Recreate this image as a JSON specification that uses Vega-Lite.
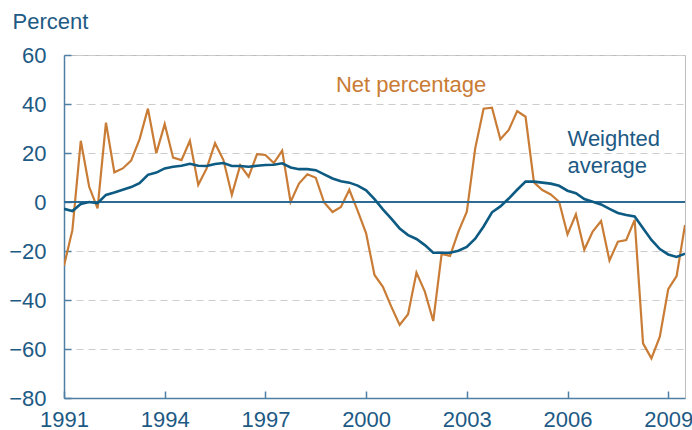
{
  "$schema": "https://vega.github.io/schema/vega-lite/v6.json",
  "width": 621,
  "height": 343,
  "autosize": {"type": "none"},
  "padding": {"left": 64, "top": 55, "right": 7, "bottom": 32},
  "background": "white",
  "config": {
    "view": {"stroke": "#bdbdbd", "strokeWidth": 1},
    "font": "Liberation Sans"
  },
  "data": {
    "values": [
      {"t": 1991.00, "net": -26, "wavg": -2.8},
      {"t": 1991.25, "net": -11.5, "wavg": -3.7},
      {"t": 1991.50, "net": 25, "wavg": -0.8},
      {"t": 1991.75, "net": 6.2, "wavg": 0},
      {"t": 1992.00, "net": -2.6, "wavg": -0.5},
      {"t": 1992.25, "net": 32.4, "wavg": 2.9},
      {"t": 1992.50, "net": 12.1, "wavg": 3.9},
      {"t": 1992.75, "net": 13.7, "wavg": 5.0},
      {"t": 1993.00, "net": 16.9, "wavg": 6.1},
      {"t": 1993.25, "net": 25.6, "wavg": 7.7},
      {"t": 1993.50, "net": 38.1, "wavg": 11.1},
      {"t": 1993.75, "net": 19.9, "wavg": 12.0},
      {"t": 1994.00, "net": 31.8, "wavg": 13.7},
      {"t": 1994.25, "net": 18.1, "wavg": 14.4},
      {"t": 1994.50, "net": 17.1, "wavg": 14.8},
      {"t": 1994.75, "net": 25, "wavg": 15.6},
      {"t": 1995.00, "net": 7, "wavg": 14.8},
      {"t": 1995.25, "net": 13.7, "wavg": 14.7},
      {"t": 1995.50, "net": 24, "wavg": 15.5},
      {"t": 1995.75, "net": 17.1, "wavg": 15.9},
      {"t": 1996.00, "net": 2.9, "wavg": 14.7},
      {"t": 1996.25, "net": 15, "wavg": 14.7},
      {"t": 1996.50, "net": 10.3, "wavg": 14.4},
      {"t": 1996.75, "net": 19.5, "wavg": 14.8},
      {"t": 1997.00, "net": 19.2, "wavg": 15.1},
      {"t": 1997.25, "net": 15.9, "wavg": 15.2},
      {"t": 1997.50, "net": 21, "wavg": 15.8},
      {"t": 1997.75, "net": 0, "wavg": 14.1},
      {"t": 1998.00, "net": 7.5, "wavg": 13.4},
      {"t": 1998.25, "net": 11.3, "wavg": 13.4},
      {"t": 1998.50, "net": 9.9, "wavg": 13.0},
      {"t": 1998.75, "net": -0.2, "wavg": 11.3},
      {"t": 1999.00, "net": -4.1, "wavg": 9.6},
      {"t": 1999.25, "net": -2, "wavg": 8.5},
      {"t": 1999.50, "net": 5, "wavg": 7.9},
      {"t": 1999.75, "net": -3.6, "wavg": 6.7},
      {"t": 2000.00, "net": -12.8, "wavg": 4.8},
      {"t": 2000.25, "net": -29.8, "wavg": 1.2},
      {"t": 2000.50, "net": -34.6, "wavg": -3},
      {"t": 2000.75, "net": -42.7, "wavg": -6.8},
      {"t": 2001.00, "net": -50.2, "wavg": -10.8},
      {"t": 2001.25, "net": -45.8, "wavg": -13.5},
      {"t": 2001.50, "net": -28.8, "wavg": -15.1},
      {"t": 2001.75, "net": -36.6, "wavg": -17.6},
      {"t": 2002.00, "net": -48.6, "wavg": -20.7},
      {"t": 2002.25, "net": -21.2, "wavg": -20.7},
      {"t": 2002.50, "net": -22, "wavg": -20.7},
      {"t": 2002.75, "net": -12.1, "wavg": -19.9},
      {"t": 2003.00, "net": -4, "wavg": -18.3},
      {"t": 2003.25, "net": 21.9, "wavg": -15},
      {"t": 2003.50, "net": 38.1, "wavg": -10},
      {"t": 2003.75, "net": 38.5, "wavg": -4.2},
      {"t": 2004.00, "net": 25.6, "wavg": -1.8},
      {"t": 2004.25, "net": 29.4, "wavg": 1.4},
      {"t": 2004.50, "net": 37.1, "wavg": 5},
      {"t": 2004.75, "net": 34.8, "wavg": 8.3},
      {"t": 2005.00, "net": 8, "wavg": 8.3},
      {"t": 2005.25, "net": 4.9, "wavg": 7.9},
      {"t": 2005.50, "net": 3.1, "wavg": 7.5},
      {"t": 2005.75, "net": 0.1, "wavg": 6.6},
      {"t": 2006.00, "net": -13.2, "wavg": 4.6},
      {"t": 2006.25, "net": -5, "wavg": 3.6},
      {"t": 2006.50, "net": -19.5, "wavg": 1.2},
      {"t": 2006.75, "net": -12.1, "wavg": 0.1},
      {"t": 2007.00, "net": -7.8, "wavg": -1},
      {"t": 2007.25, "net": -23.9, "wavg": -2.8},
      {"t": 2007.50, "net": -16.2, "wavg": -4.5},
      {"t": 2007.75, "net": -15.5, "wavg": -5.3},
      {"t": 2008.00, "net": -7.3, "wavg": -5.9},
      {"t": 2008.25, "net": -57.7, "wavg": -10.7},
      {"t": 2008.50, "net": -63.8, "wavg": -15.5},
      {"t": 2008.75, "net": -55, "wavg": -19.2},
      {"t": 2009.00, "net": -35.6, "wavg": -21.4},
      {"t": 2009.25, "net": -30.2, "wavg": -22.4},
      {"t": 2009.50, "net": -9.4, "wavg": -21.1}
    ]
  },
  "encoding": {
    "x": {
      "field": "t",
      "type": "quantitative",
      "scale": {"domain": [1991, 2009.5], "nice": false, "zero": false},
      "axis": {
        "title": null,
        "values": [1991, 1994, 1997, 2000, 2003, 2006, 2009],
        "format": "d",
        "grid": false,
        "domainColor": "#4f7fa3",
        "domainWidth": 1.5,
        "tickColor": "#4f7fa3",
        "tickWidth": 1.5,
        "tickSize": -7,
        "labelPadding": 18,
        "labelFontSize": 22,
        "labelColor": "#1d5a84",
        "labelFont": "Liberation Sans",
        "labelFlush": false,
        "labelOverlap": false
      }
    }
  },
  "layer": [
    {
      "mark": {"type": "line", "color": "#c97c35", "strokeWidth": 2.2, "clip": true},
      "encoding": {
        "y": {
          "field": "net",
          "type": "quantitative",
          "scale": {"domain": [-80, 60], "nice": false},
          "axis": {
            "values": [-80, -60, -40, -20, 0, 20, 40, 60],
            "grid": true,
            "gridColor": "#cccccc",
            "gridDash": [7, 5],
            "gridWidth": 1,
            "domainColor": "#4f7fa3",
            "domainWidth": 1.5,
            "tickColor": "#4f7fa3",
            "tickWidth": 1.5,
            "tickSize": -7,
            "labelPadding": 25,
            "labelFontSize": 22,
            "labelColor": "#1d5a84",
            "labelFont": "Liberation Sans",
            "title": "Percent",
            "titleAngle": 0,
            "titleAlign": "left",
            "titleBaseline": "alphabetic",
            "titleX": -52,
            "titleY": -27,
            "titleFontSize": 22,
            "titleFontWeight": "normal",
            "titleFont": "Liberation Sans",
            "titleColor": "#1d5a84"
          }
        }
      }
    },
    {
      "mark": {"type": "rule", "color": "#2f6b94", "strokeWidth": 1.5},
      "encoding": {"y": {"datum": 0}, "x": null}
    },
    {
      "mark": {"type": "line", "color": "#0d5a82", "strokeWidth": 2.6, "clip": true},
      "encoding": {"y": {"field": "wavg", "type": "quantitative"}}
    },
    {
      "data": {"values": [{"label": "Net percentage", "lx": 1999.1, "ly": 45}]},
      "mark": {"type": "text", "color": "#c97c35", "fontSize": 22, "align": "left", "baseline": "alphabetic", "font": "Liberation Sans"},
      "encoding": {
        "x": {"field": "lx", "type": "quantitative"},
        "y": {"field": "ly", "type": "quantitative"},
        "text": {"field": "label"}
      }
    },
    {
      "data": {"values": [{"label": "Weighted", "lx": 2006.0, "ly": 23}, {"label": "average", "lx": 2006.0, "ly": 12}]},
      "mark": {"type": "text", "color": "#1d5a84", "fontSize": 22, "align": "left", "baseline": "alphabetic", "font": "Liberation Sans"},
      "encoding": {
        "x": {"field": "lx", "type": "quantitative"},
        "y": {"field": "ly", "type": "quantitative"},
        "text": {"field": "label"}
      }
    }
  ]
}
